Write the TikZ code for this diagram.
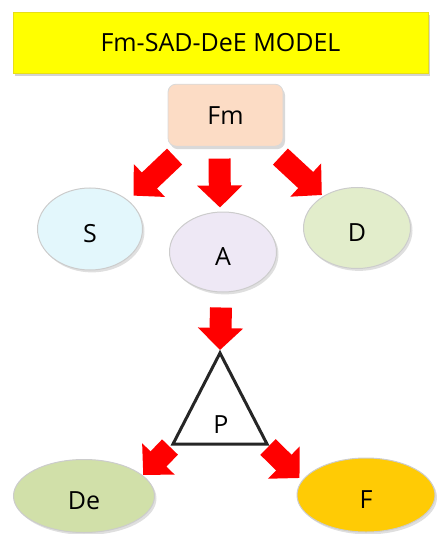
\documentclass[tikz,border=0pt]{standalone}
\usepackage{fontspec}
\setmainfont{Open Sans}
\usetikzlibrary{positioning, shapes.geometric, arrows.meta, shadows}
\definecolor{titleyellow}{HTML}{FFFF00}
\definecolor{fmpeach}{HTML}{FCDCC5}
\definecolor{scyan}{HTML}{E3F7FC}
\definecolor{alilac}{HTML}{EEE8F5}
\definecolor{dgreen}{HTML}{E2EDCB}
\definecolor{degreen}{HTML}{D1E0A9}
\definecolor{fgold}{HTML}{FFCB05}
\tikzset{
	every text node part/.style= {
		align=center
	},
	labeltext/.style= {
		font=\fontsize{12.5}{15}\selectfont,
	},
	header/.style= {
		rectangle,
		labeltext,
		fill=titleyellow,
		draw=yellow!90!black,
		line width=0.3pt,
		minimum width=207.5pt,
		minimum height=30.5pt,
		drop shadow={opacity=0.35, shadow xshift=1pt, shadow yshift=-1.5pt}
	},
	box/.style= {
		rectangle,
		labeltext,
		rounded corners=4pt,
		fill=fmpeach,
		draw=white!85!black,
		line width=0.4pt,
		minimum width=57.5pt,
		minimum height=31pt,
		drop shadow={opacity=0.3, shadow xshift=1pt, shadow yshift=-1.5pt}
	},
	bubble/.style= {
		ellipse,
		labeltext,
		inner sep=0pt,
		text height=13pt,
		text depth=0pt,
		draw=white!80!black,
		line width=0.5pt,
		drop shadow={opacity=0.25, shadow xshift=1pt, shadow yshift=-1.2pt}
	},
	bigarrow/.style={red, line width=11pt, -{Triangle[length=11pt, width=22pt]}},
	tri/.style={draw=black!85, line width=1.5pt, line join=miter},
}

\begin{document}
\begin{tikzpicture}[x=0.5pt, y=-0.5pt]
		\useasboundingbox (0,0) rectangle (437,534);

		\node (title) [header] at (220.5,43) {Fm-SAD-DeE MODEL};
		\node (fm) [box, below=5pt of title, xshift=2.5pt] {Fm};

		\node (s) [bubble, fill=scyan, minimum width=52.5pt, minimum height=41pt] at (90,229) {S};
		\node (a) [bubble, fill=alilac, minimum width=53.5pt, minimum height=40pt] at (223,252) {A};
		\node (d) [bubble, fill=dgreen, minimum width=53.5pt, minimum height=40.5pt] at (357,228) {D};

		\coordinate (tritop) at (220,353);
		\coordinate (trileft) at (173,444);
		\coordinate (triright) at (267,444);
		\draw[tri] (tritop) -- (trileft) -- (triright) -- cycle;
		\node (p) [labeltext] at (221,425) {P};

		\node (de) [bubble, fill=degreen, minimum width=70.5pt, minimum height=36.5pt] at (84,496) {De};
		\node (f) [bubble, fill=fgold, minimum width=69pt, minimum height=37pt] at (366,495) {F};

		\draw[bigarrow] ([shift={(7,10)}]fm.south west) to ([shift={(6,-4)}]s.north east);
		\draw[bigarrow] ([shift={(-6,12)}]fm.south) to ([shift={(-3,-4)}]a.north);
		\draw[bigarrow] ([shift={(-3,10)}]fm.south east) to ([shift={(3,-4)}]d.north west);
		\draw[bigarrow] ([shift={(-2,15)}]a.south) to ([shift={(0,-3)}]tritop);
		\draw[bigarrow] ([shift={(-3,3)}]trileft) to ([shift={(9,5)}]de.north east);
		\draw[bigarrow] ([shift={(1,3)}]triright) to ([shift={(3,-17)}]f.west);
	\end{tikzpicture}
\end{document}
